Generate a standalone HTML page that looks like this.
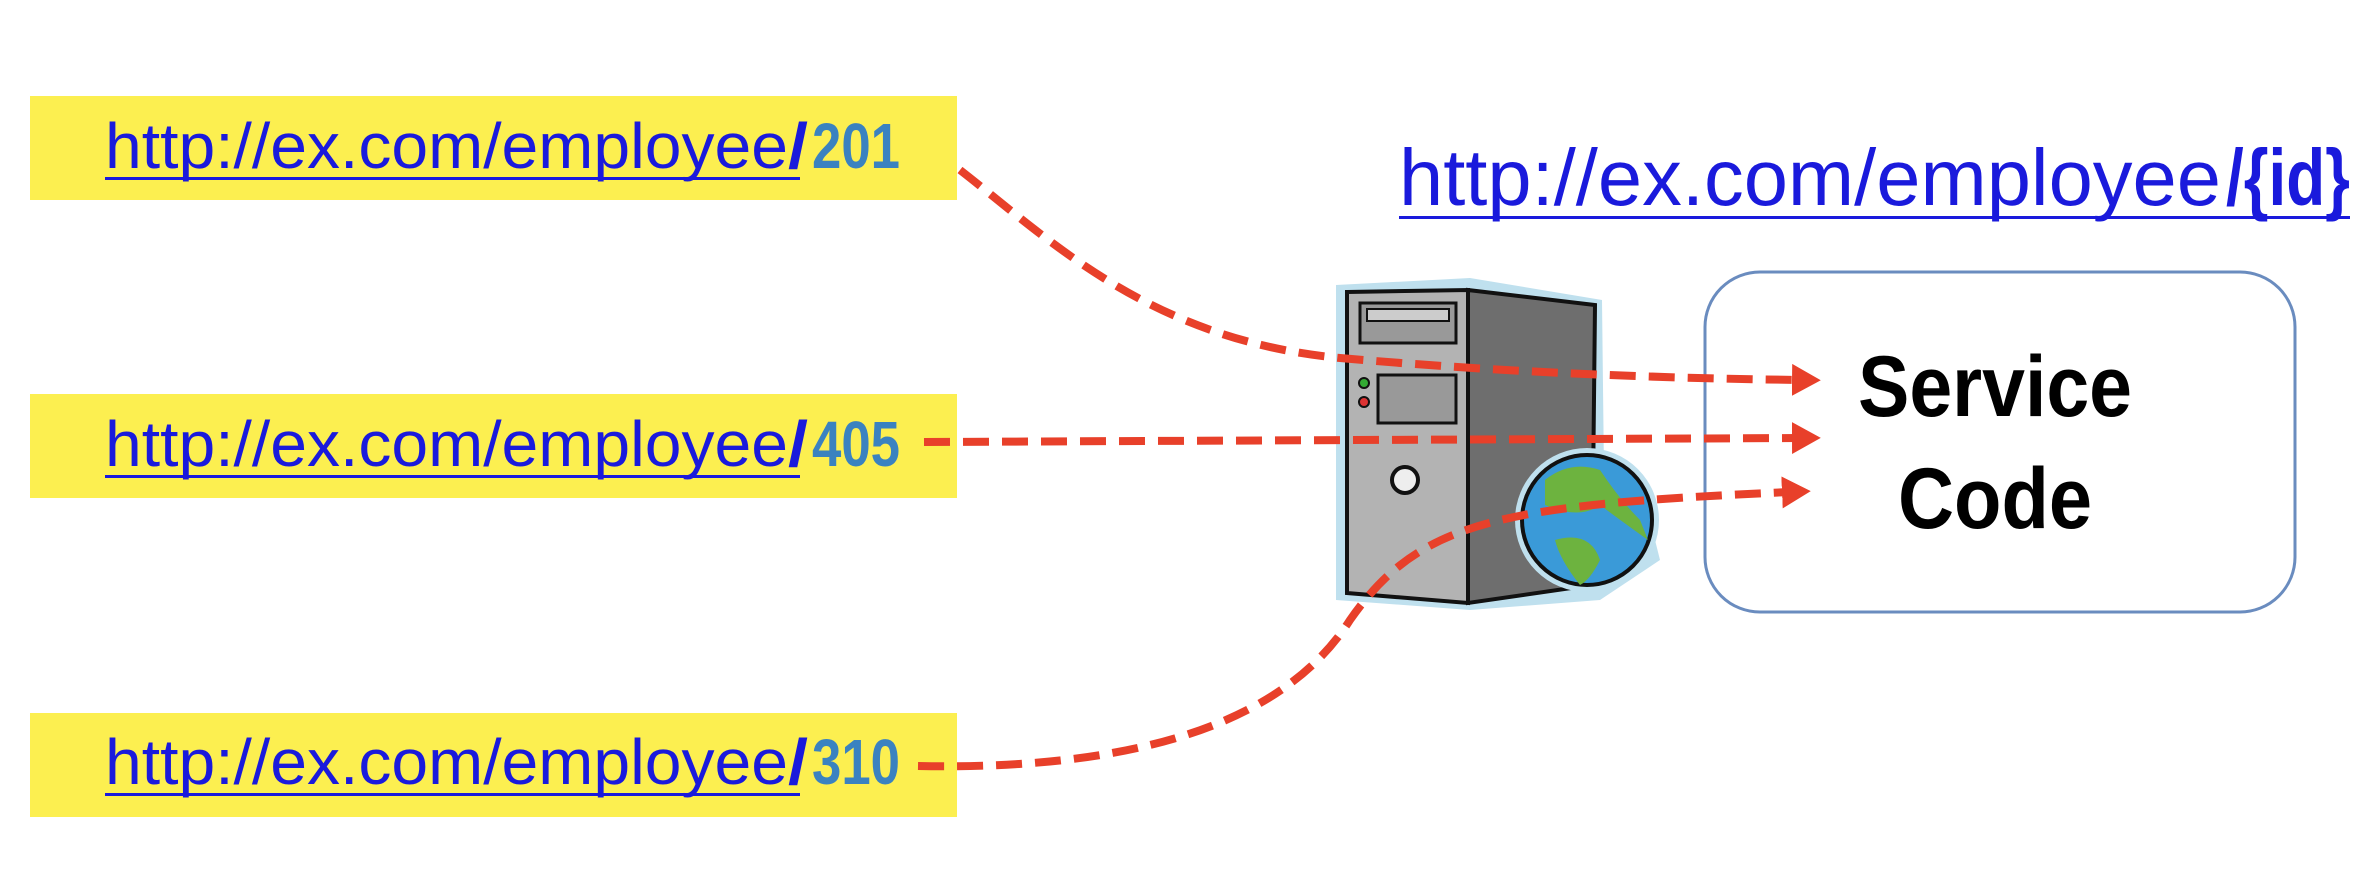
<!DOCTYPE html>
<html><head><meta charset="utf-8"><style>
html,body{margin:0;padding:0;background:#fff;}
svg{display:block;}
</style></head><body>
<svg width="2368" height="884" viewBox="0 0 2368 884" xmlns="http://www.w3.org/2000/svg">
<defs>
<marker id="ah" markerWidth="5" markerHeight="5" refX="1" refY="2" orient="auto" markerUnits="strokeWidth">
<path d="M0,0 L3.6,2 L0,4 Z" fill="#e8402a"/>
</marker>
</defs>
<g font-family="'Liberation Sans', sans-serif">
<rect x="30" y="96" width="927" height="104" fill="#fcef50"/>
<rect x="30" y="394" width="927" height="104" fill="#fcef50"/>
<rect x="30" y="713" width="927" height="104" fill="#fcef50"/>

<g font-size="64">
<text x="105" y="168" fill="#1a1adc" textLength="683" lengthAdjust="spacingAndGlyphs">http://ex.com/employee</text>
<text x="788" y="168" fill="#1a1adc" font-weight="bold" textLength="20" lengthAdjust="spacingAndGlyphs">/</text>
<text x="812" y="168" fill="#3a82c0" font-weight="bold" textLength="88" lengthAdjust="spacingAndGlyphs">201</text>
<rect x="105" y="177" width="695" height="3" fill="#1a1adc"/>

<text x="105" y="466" fill="#1a1adc" textLength="683" lengthAdjust="spacingAndGlyphs">http://ex.com/employee</text>
<text x="788" y="466" fill="#1a1adc" font-weight="bold" textLength="20" lengthAdjust="spacingAndGlyphs">/</text>
<text x="812" y="466" fill="#3a82c0" font-weight="bold" textLength="88" lengthAdjust="spacingAndGlyphs">405</text>
<rect x="105" y="475" width="695" height="3" fill="#1a1adc"/>

<text x="105" y="784" fill="#1a1adc" textLength="683" lengthAdjust="spacingAndGlyphs">http://ex.com/employee</text>
<text x="788" y="784" fill="#1a1adc" font-weight="bold" textLength="20" lengthAdjust="spacingAndGlyphs">/</text>
<text x="812" y="784" fill="#3a82c0" font-weight="bold" textLength="88" lengthAdjust="spacingAndGlyphs">310</text>
<rect x="105" y="793" width="695" height="3" fill="#1a1adc"/>
</g>

<text x="1399" y="205" font-size="80" fill="#1a1adc" textLength="822" lengthAdjust="spacingAndGlyphs">http://ex.com/employee</text>
<text x="2226" y="205" font-size="80" fill="#1a1adc" font-weight="bold" textLength="124" lengthAdjust="spacingAndGlyphs">/{id}</text>
<rect x="1399" y="216" width="951" height="3" fill="#1a1adc"/>

<rect x="1705" y="272" width="590" height="340" rx="55" fill="#fff" stroke="#6a8cbf" stroke-width="3"/>
<text x="1858" y="416" font-size="86" font-weight="bold" fill="#000" textLength="274" lengthAdjust="spacingAndGlyphs">Service</text>
<text x="1898" y="528" font-size="86" font-weight="bold" fill="#000" textLength="194" lengthAdjust="spacingAndGlyphs">Code</text>

<path d="M1336,285 L1470,278 L1602,300 L1605,560 L1650,520 L1660,560 L1600,600 L1470,610 L1336,600 Z" fill="#bfe0ee"/>
<path d="M1468,290 L1595,305 L1592,585 L1468,603 Z" fill="#6e6e6e" stroke="#111" stroke-width="4"/>
<path d="M1347,292 L1468,290 L1468,603 L1347,593 Z" fill="#b3b3b3" stroke="#111" stroke-width="4"/>
<rect x="1360" y="303" width="96" height="40" fill="#999" stroke="#111" stroke-width="3"/>
<rect x="1367" y="309" width="82" height="12" fill="#ccc" stroke="#111" stroke-width="2"/>
<rect x="1378" y="375" width="78" height="48" fill="#999" stroke="#111" stroke-width="3"/>
<circle cx="1364" cy="383" r="5" fill="#3a3" stroke="#111" stroke-width="2"/>
<circle cx="1364" cy="402" r="5" fill="#d33" stroke="#111" stroke-width="2"/>
<circle cx="1405" cy="480" r="13" fill="#eee" stroke="#111" stroke-width="4"/>
<circle cx="1587" cy="520" r="72" fill="#bfe0ee"/>
<circle cx="1587" cy="520" r="65" fill="#3a9ad8" stroke="#111" stroke-width="4"/>
<path d="M1545,480 Q1570,460 1600,470 Q1620,500 1640,520 L1648,540 Q1620,520 1600,505 Q1580,520 1545,505 Z" fill="#6db33f"/>
<path d="M1555,540 Q1590,530 1600,560 Q1590,580 1580,585 Q1560,560 1555,540 Z" fill="#6db33f"/>

<g fill="none" stroke="#e8402a" stroke-width="8" stroke-dasharray="26,13" marker-end="url(#ah)">
<path d="M960,170 C1050,240 1150,340 1340,358 C1500,372 1650,378 1800,380"/>
<path d="M924,442 L1800,438"/>
<path d="M918,766 C1120,770 1280,730 1350,620 C1420,520 1500,505 1790,492"/>
</g>
</g>
</svg>
</body></html>
